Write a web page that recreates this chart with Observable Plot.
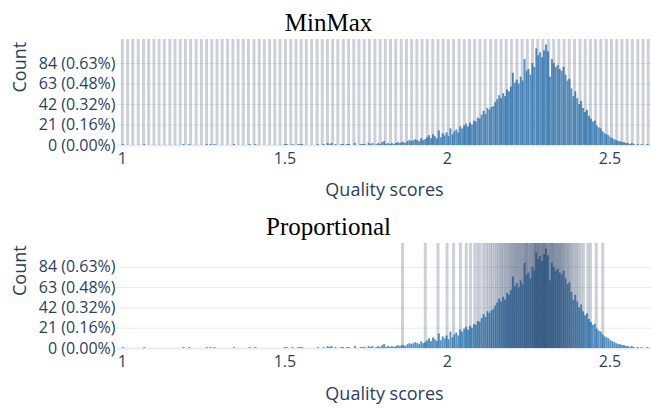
<!DOCTYPE html>
<html><head><meta charset="utf-8">
<script src="https://cdn.jsdelivr.net/npm/d3@7"></script>
<script src="https://cdn.jsdelivr.net/npm/@observablehq/plot@0.6"></script>
<style>body{margin:0;background:#fff}#chart svg{display:block}</style>
</head><body><div id="chart"></div><script>
// Histogram of quality scores (bin start, bin width, counts)
const binStart = 1.0;
const binWidth = 0.006;
const counts = [
 1,0,0,0,0,0,0,0,0,0,
 0,1,0,0,0,0,0,0,0,0,
 0,0,0,0,0,0,0,0,0,0,
 0,1,0,0,1,0,0,0,0,0,
 0,0,0,1,0,1,0,1,0,0,
 0,0,0,0,0,0,0,1,0,0,
 0,0,0,0,0,1,0,0,1,0,
 0,0,0,0,0,0,0,0,0,0,
 0,0,0,1,1,0,0,1,0,0,
 1,1,1,0,0,0,0,0,0,0,
 1,0,0,1,0,2,1,2,0,1,
 0,0,1,1,0,1,1,0,0,2,
 0,0,1,1,1,0,2,1,2,0,
 1,2,1,3,4,1,2,1,2,1,
 2,3,2,3,3,2,4,5,4,5,
 6,5,4,7,5,6,8,10,7,11,
 9,7,15,8,12,10,13,9,17,11,
 14,16,13,19,17,20,22,19,23,21,
 25,24,28,27,31,35,32,38,36,39,
 40,44,47,51,48,53,50,57,55,60,
 74,64,67,63,70,66,88,76,78,72,
 84,80,99,92,95,90,97,103,96,70,
 88,84,80,82,78,76,80,72,66,68,
 58,50,55,48,42,45,38,34,36,30,
 27,24,25,20,18,17,14,12,11,10,
 8,7,6,5,4,4,3,3,2,2,
 1,2,1,0,1,0,1,0,0,1
];
// MinMax bin boundaries (evenly spaced between min and max)
const minmaxEdges = [
 1.000,1.016,1.032,1.049,1.065,1.081,1.097,1.113,1.129,1.146,
 1.162,1.178,1.194,1.210,1.227,1.243,1.259,1.275,1.291,1.307,
 1.324,1.340,1.356,1.372,1.388,1.405,1.421,1.437,1.453,1.469,
 1.485,1.502,1.518,1.534,1.550,1.566,1.582,1.599,1.615,1.631,
 1.647,1.663,1.680,1.696,1.712,1.728,1.744,1.760,1.777,1.793,
 1.809,1.825,1.841,1.858,1.874,1.890,1.906,1.922,1.938,1.955,
 1.971,1.987,2.003,2.019,2.036,2.052,2.068,2.084,2.100,2.116,
 2.133,2.149,2.165,2.181,2.197,2.214,2.230,2.246,2.262,2.278,
 2.294,2.311,2.327,2.343,2.359,2.375,2.391,2.408,2.424,2.440,
 2.456,2.472,2.489,2.505,2.521,2.537,2.553,2.569,2.586,2.602,
 2.618
];
// Proportional bin boundaries (percentiles 1..99)
const proportionalEdges = [
 1.862,1.932,1.971,1.999,2.019,2.040,2.058,2.071,2.084,2.093,
 2.101,2.111,2.119,2.126,2.133,2.139,2.146,2.152,2.157,2.163,
 2.167,2.172,2.177,2.181,2.186,2.190,2.194,2.198,2.202,2.205,
 2.209,2.212,2.216,2.219,2.223,2.226,2.229,2.233,2.236,2.239,
 2.242,2.244,2.248,2.250,2.254,2.257,2.259,2.263,2.266,2.268,
 2.270,2.273,2.275,2.278,2.280,2.282,2.285,2.288,2.290,2.292,
 2.295,2.298,2.299,2.302,2.305,2.307,2.311,2.314,2.316,2.319,
 2.322,2.324,2.327,2.329,2.333,2.336,2.338,2.342,2.345,2.347,
 2.351,2.354,2.358,2.361,2.365,2.369,2.373,2.377,2.382,2.387,
 2.393,2.398,2.404,2.411,2.419,2.432,2.440,2.458,2.478
];
const titles = ["MinMax", "Proportional"];
const xTicks = [1, 1.5, 2, 2.5];
const xTickLabels = ["1", "1.5", "2", "2.5"];
const yTicks = [0, 21, 42, 63, 84];
const yTickLabels = ["0 (0.00%)", "21 (0.16%)", "42 (0.32%)", "63 (0.48%)", "84 (0.63%)"];
const xLabel = "Quality scores";
const yLabel = "Count";

const bins = counts.map((c, i) => ({x1: binStart + i * binWidth, x2: binStart + (i + 1) * binWidth, c}));
const xLab = new Map(xTicks.map((t, i) => [t, xTickLabels[i]]));
const yLab = new Map(yTicks.map((t, i) => [t, yTickLabels[i]]));
const ink = "#2a3f5f";

function panel(title, edges, marginBottom, xlabDy) {
  return Plot.plot({
    width: 651, height: 204,
    marginTop: 39, marginBottom, marginLeft: 117, marginRight: 0,
    style: {fontFamily: "'Open Sans', sans-serif", fontSize: "16px", color: ink, background: "#fff", overflow: "visible"},
    x: {domain: [0.985, 2.628]},
    y: {domain: [0, 108.6]},
    marks: [
      Plot.gridY(yTicks.filter(d => d > 0), {stroke: "#e5ecf6", strokeOpacity: 1, strokeWidth: 1}),
      Plot.ruleY([0], {stroke: "#e5ecf6", strokeWidth: 2}),
      Plot.rect(bins, {x1: "x1", x2: "x2", y1: d => 0, y2: "c", fill: "#5593c6"}),
      Plot.ruleX(edges, {stroke: ink, strokeOpacity: 0.24, strokeWidth: 3}),
      Plot.axisY({ticks: yTicks, tickFormat: d => yLab.get(d), tickSize: 0, tickPadding: 2, label: null, fontSize: 16, fill: ink}),
      Plot.axisX({ticks: xTicks, tickFormat: d => xLab.get(d), tickSize: 0, tickPadding: 7, label: null, fontSize: 16, fill: ink}),
      Plot.text([title], {text: d => d, frameAnchor: "top", dx: -56, dy: -9, lineAnchor: "bottom", fontFamily: "'Liberation Serif', 'Times New Roman', serif", fontSize: 25, fill: "#000"}),
      Plot.text([xLabel], {text: d => d, frameAnchor: "bottom", dy: xlabDy, lineAnchor: "bottom", fontSize: 18, fill: ink}),
      Plot.text([yLabel], {text: d => d, frameAnchor: "left", dx: -92, rotate: -90, lineAnchor: "bottom", fontSize: 18, fill: ink})
    ]
  });
}
const root = document.getElementById("chart");
root.appendChild(panel(titles[0], minmaxEdges, 59, 50));
root.appendChild(panel(titles[1], proportionalEdges, 60, 51));
</script></body></html>
